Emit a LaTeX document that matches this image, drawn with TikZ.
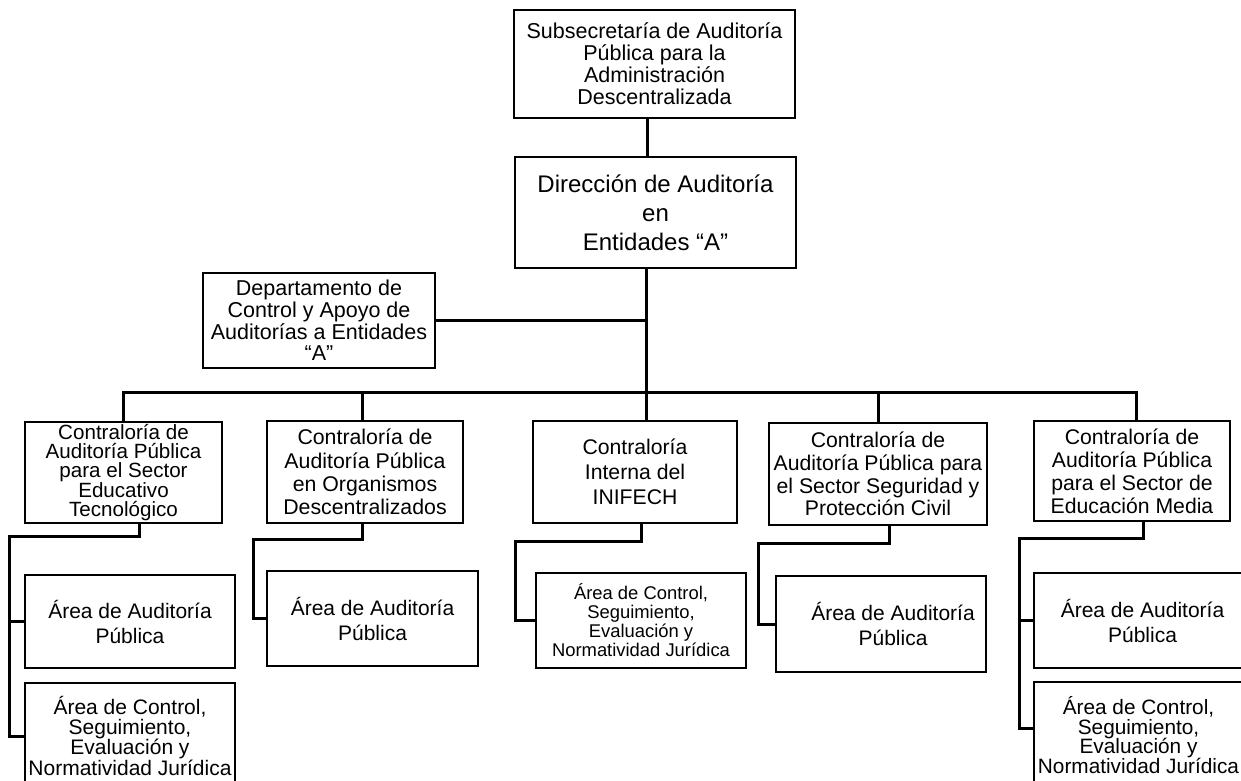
\documentclass[tikz,border=0pt]{standalone}
\usepackage{fontspec}
\setmainfont{Liberation Sans}
\begin{document}
\begin{tikzpicture}[x=1pt, y=-1pt,
    box/.style={draw, line width=2.4pt, align=center, inner sep=0pt},
    link/.style={line width=3pt},
    sz/.style 2 args={font=\fontsize{#1}{#2}\selectfont}]
  \useasboundingbox (0,0) rectangle (1241,780);
  \clip (0,0) rectangle (1241,780);

  % Upper levels
  \node[box, sz={21.5}{22}, minimum width=281pt, minimum height=108pt] (sub) at (654.5,64)
    {Subsecretaría de Auditoría\\Pública para la\\Administración\\Descentralizada};
  \node[box, sz={24}{29}, minimum width=281pt, minimum height=111pt] (dir) at (655.5,212.5)
    {Dirección de Auditoría\\en\\Entidades “A”};
  \node[box, sz={21.5}{21.7}, minimum width=232pt, minimum height=95pt] (dep) at (319,320.5)
    {Departamento de\\Control y Apoyo de\\Auditorías a Entidades\\“A”};

  % Contralorías
  \node[box, sz={20.6}{19.4}, minimum width=197pt, minimum height=101pt] (c1) at (123.5,472.5)
    {Contraloría de\\Auditoría Pública\\para el Sector\\Educativo\\Tecnológico};
  \node[box, sz={21.3}{23.3}, minimum width=196pt, minimum height=102pt] (c2) at (365,472)
    {Contraloría de\\Auditoría Pública\\en Organismos\\Descentralizados};
  \node[box, sz={21.2}{25}, minimum width=204pt, minimum height=102pt] (c3) at (635,472)
    {Contraloría\\Interna del\\INIFECH};
  \node[box, sz={21.2}{22.7}, minimum width=218pt, minimum height=102pt] (c4) at (878,474)
    {Contraloría de\\Auditoría Pública para\\el Sector Seguridad y\\Protección Civil};
  \node[box, sz={21.2}{23}, minimum width=196pt, minimum height=100pt] (c5) at (1132,471)
    {Contraloría de\\Auditoría Pública\\para el Sector de\\Educación Media};

  % Areas
  \node[box, sz={21}{25}, minimum width=210pt, minimum height=93pt] (a1) at (130,621.5)
    {Área de Auditoría\\Pública};
  \node[box, sz={21}{19.7}, minimum width=210pt, minimum height=106pt] (b1) at (130,736)
    {Área de Control,\\Seguimiento,\\Evaluación y\\Normatividad Jurídica};
  \node[box, sz={21}{25}, minimum width=211pt, minimum height=95pt] (a2) at (372.5,618.5)
    {Área de Auditoría\\Pública};
  \node[box, sz={18.4}{19}, minimum width=210pt, minimum height=95pt] (a3) at (641,620.5)
    {Área de Control,\\Seguimiento,\\Evaluación y\\Normatividad Jurídica};
  \node[box, sz={21}{25}, minimum width=210pt, minimum height=96pt] (a4) at (881,624)
    {\hspace*{24pt}Área de Auditoría\\\hspace*{24pt}Pública};
  \node[box, sz={21}{25}, minimum width=217pt, minimum height=95pt] (a5) at (1142.5,620.5)
    {Área de Auditoría\\Pública};
  \node[box, sz={20.8}{19.7}, minimum width=209pt, minimum height=106pt] (b5) at (1138.5,735)
    {Área de Control,\\Seguimiento,\\Evaluación y\\Normatividad Jurídica};

  % Main spine
  \coordinate (spine) at ([xshift=-9pt]dir.south);
  \coordinate (bus) at (0,392);
  \draw[link] ([xshift=-7.5pt]sub.south) -- ([xshift=-7.5pt]sub.south |- dir.north);
  \draw[link] (spine) -- (spine |- c3.north);
  \draw[link] (dep.east) -- (dep.east -| spine);

  % Bus to the contralorías
  \draw[link] (c1.north) |- ([xshift=4pt]c5.north |- bus) -- ([xshift=4pt]c5.north);
  \draw[link] ([xshift=-3pt]c2.north |- bus) -- ([xshift=-3pt]c2.north);
  \draw[link] (c4.north |- bus) -- (c4.north);

  % Areas under each contraloría
  \coordinate (k1) at (9,536);
  \coordinate (k2) at (253,539);
  \coordinate (k3) at (515,541);
  \coordinate (k4) at (758,543);
  \coordinate (k5) at (1019,538);
  \draw[link] ([xshift=15.5pt]c1.south) |- (k1) |- (a1.west);
  \draw[link] (k1) |- (b1.west);
  \draw[link] ([xshift=-3pt]c2.south) |- (k2) |- (a2.west);
  \draw[link] ([xshift=6pt]c3.south) |- (k3) |- (a3.west);
  \draw[link] ([xshift=11pt]c4.south) |- (k4) |- (a4.west);
  \draw[link] ([xshift=11pt]c5.south) |- (k5) |- (a5.west);
  \draw[link] (k5) |- ([yshift=7pt]b5.west);
\end{tikzpicture}
\end{document}
